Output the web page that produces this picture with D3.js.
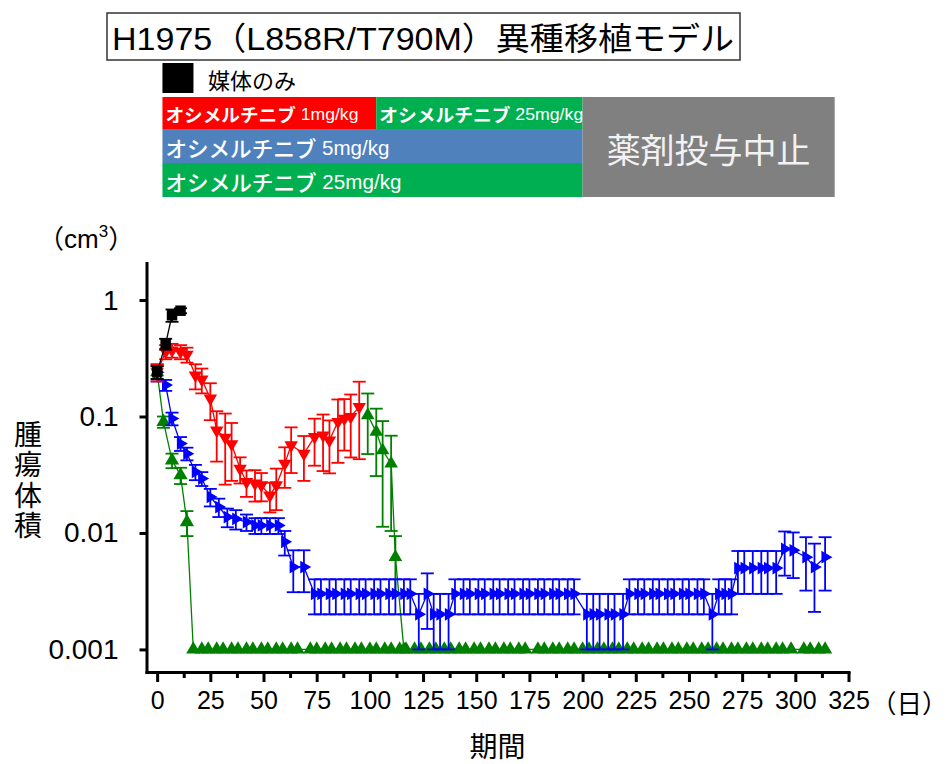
<!DOCTYPE html>
<html>
<head>
<meta charset="utf-8">
<script src="https://cdn.jsdelivr.net/npm/d3@7"></script>
<style>
  body { margin: 0; background: #fff; }
  svg { display: block; }
</style>
</head>
<body>
<svg id="chart" width="948" height="764"></svg>
<script>
// ---------- data ----------
const titleText = "H1975（L858R/T790M）異種移植モデル";

const vehicleDays = [0, 4, 7, 11];
const vehicleVol  = [0.24, 0.42, 0.74, 0.81];
const vehicleSem  = [0.03, 0.045, 0.09, 0.04];

// osimertinib 1 mg/kg, switched to 25 mg/kg afterwards
const osi1Days = [0, 4, 7, 11, 14, 18, 21, 25, 28, 32, 35, 39, 42, 46, 49, 53, 56, 60, 63, 69, 74, 78, 81, 85, 88, 91, 95];
const osi1Vol  = [0.24, 0.36, 0.37, 0.36, 0.34, 0.226, 0.208, 0.143, 0.076, 0.066, 0.058, 0.0356, 0.0274, 0.0266, 0.0257, 0.021, 0.0257, 0.0394, 0.0567, 0.048, 0.0668, 0.069, 0.0625, 0.090, 0.096, 0.0995, 0.121];
const osi1Sem  = [0.04, 0.05, 0.05, 0.05, 0.05, 0.055, 0.05, 0.05, 0.035, 0.04, 0.03, 0.009, 0.007, 0.008, 0.007, 0.006, 0.01, 0.015, 0.024, 0.02, 0.029, 0.035, 0.03, 0.05, 0.045, 0.055, 0.078];

const switchDays = [99, 103, 106, 110, 112, 116];
const switchVol  = [0.1026, 0.0738, 0.0513, 0.0394, 0.0062, 0.001];
const switchSem  = [0.055, 0.043, 0.04, 0.029, 0.0032, 0];

// osimertinib 5 mg/kg
const osi5Days = [0, 4, 7, 11, 14, 18, 21, 25, 29, 33, 37, 42, 46, 49, 53, 57, 60, 64, 69,
  74, 77, 81, 84, 88, 91, 95, 98, 102, 105, 109, 112, 116, 119,
  123, 127, 130, 133, 137,
  140, 144, 147, 151, 154, 158, 161, 165, 168, 172, 175,
  179, 182, 186, 189, 193, 196,
  202, 205, 208, 212, 215, 219,
  222, 226, 229, 233, 236, 240, 243, 247, 250, 254, 257,
  261, 264, 267, 270,
  273, 276, 280, 284, 287, 291,
  295, 299, 305, 309, 314];
const osi5Vol = [0.24, 0.186, 0.096, 0.0586, 0.048, 0.0334, 0.0293, 0.0204, 0.0167, 0.0137, 0.0132, 0.0124, 0.0116, 0.0116, 0.0116, 0.0116, 0.0084, 0.0051, 0.0051,
  0.003, 0.003, 0.003, 0.003, 0.003, 0.003, 0.003, 0.003, 0.003, 0.003, 0.003, 0.003, 0.003, 0.003,
  0.002, 0.003, 0.002, 0.002, 0.002,
  0.003, 0.003, 0.003, 0.003, 0.003, 0.003, 0.003, 0.003, 0.003, 0.003, 0.003,
  0.003, 0.003, 0.003, 0.003, 0.003, 0.003,
  0.002, 0.002, 0.002, 0.002, 0.002, 0.002,
  0.003, 0.003, 0.003, 0.003, 0.003, 0.003, 0.003, 0.003, 0.003, 0.003, 0.003,
  0.002, 0.003, 0.003, 0.003,
  0.005, 0.005, 0.005, 0.005, 0.005, 0.005,
  0.0073, 0.0071, 0.0062, 0.0051, 0.0062];
const osi5Sem = [0.04, 0.02, 0.012, 0.008, 0.006, 0.005, 0.004, 0.0035, 0.003, 0.0025, 0.0025, 0.002, 0.0018, 0.0018, 0.0018, 0.0018, 0.002, 0.002, 0.002,
  0.001, 0.001, 0.001, 0.001, 0.001, 0.001, 0.001, 0.001, 0.001, 0.001, 0.001, 0.001, 0.001, 0.001,
  0.001, 0.0015, 0.001, 0.001, 0.001,
  0.001, 0.001, 0.001, 0.001, 0.001, 0.001, 0.001, 0.001, 0.001, 0.001, 0.001,
  0.001, 0.001, 0.001, 0.001, 0.001, 0.001,
  0.001, 0.001, 0.001, 0.001, 0.001, 0.001,
  0.001, 0.001, 0.001, 0.001, 0.001, 0.001, 0.001, 0.001, 0.001, 0.001, 0.001,
  0.001, 0.001, 0.001, 0.001,
  0.002, 0.002, 0.002, 0.002, 0.002, 0.002,
  0.003, 0.003, 0.003, 0.003, 0.003];

// osimertinib 25 mg/kg
const osi25Days = [0, 3, 7, 11, 14,
  17, 21, 24, 28, 31, 35, 38, 42, 45, 49, 52, 56, 59, 63, 66,
  72, 75, 79, 82, 86, 89, 93, 96, 100, 103, 107, 110, 114, 117, 121, 124, 128, 131, 135, 138,
  142, 145, 149, 152, 156, 159, 163, 166, 170, 173,
  179, 182, 186, 189, 193, 196, 200, 203, 207, 210, 214, 217, 221, 224, 228, 231, 235, 238,
  242, 245, 249, 252, 256, 259, 263, 266, 270, 273, 277, 280, 284, 287, 291, 294, 298,
  304, 307, 311, 314];
const osi25Vol = [0.24, 0.09, 0.042, 0.0313, 0.0124,
  0.001, 0.001, 0.001, 0.001, 0.001, 0.001, 0.001, 0.001, 0.001, 0.001, 0.001, 0.001, 0.001, 0.001, 0.001,
  0.001, 0.001, 0.001, 0.001, 0.001, 0.001, 0.001, 0.001, 0.001, 0.001, 0.001, 0.001, 0.001, 0.001, 0.001, 0.001, 0.001, 0.001, 0.001, 0.001,
  0.001, 0.001, 0.001, 0.001, 0.001, 0.001, 0.001, 0.001, 0.001, 0.001,
  0.001, 0.001, 0.001, 0.001, 0.001, 0.001, 0.001, 0.001, 0.001, 0.001, 0.001, 0.001, 0.001, 0.001, 0.001, 0.001, 0.001, 0.001,
  0.001, 0.001, 0.001, 0.001, 0.001, 0.001, 0.001, 0.001, 0.001, 0.001, 0.001, 0.001, 0.001, 0.001, 0.001, 0.001, 0.001,
  0.001, 0.001, 0.001, 0.001];
const osi25Sem = [0.03, 0.01, 0.006, 0.005, 0.003];

// axis ticks
const xTicks = [0, 25, 50, 75, 100, 125, 150, 175, 200, 225, 250, 275, 300, 325];
const xMinorTicks = [12.5, 37.5, 62.5, 87.5, 112.5, 137.5, 162.5, 187.5, 212.5, 237.5, 262.5, 287.5, 312.5];
const yTicks = [0.001, 0.01, 0.1, 1];
const yTickLabels = ["0.001", "0.01", "0.1", "1"];

// dosing schedule shown above the plot (days)
const regimenLabels = ["オシメルチニブ 1mg/kg", "オシメルチニブ  25mg/kg", "オシメルチニブ 5mg/kg", "オシメルチニブ 25mg/kg", "薬剤投与中止"];
const regimenStart  = [2.5, 103, 2.5, 2.5, 200];
const regimenEnd    = [103, 200, 200, 200, 318.5];

// ---------- layout ----------
const svg = d3.select("#chart");
const latin = "'Liberation Sans', Arial, 'Noto Sans CJK JP', sans-serif";
const jp = "'Noto Sans CJK JP', sans-serif";

const x = d3.scaleLinear().domain([-5, 325]).range([146.5, 848.5]);
const y = d3.scaleLog().domain([0.00064, 2.08]).range([672, 263]);
const yMin = y.domain()[0];

// ---------- header ----------
svg.append("rect").attr("x", 107).attr("y", 13).attr("width", 633).attr("height", 47)
  .attr("fill", "#fff").attr("stroke", "#333").attr("stroke-width", 1.5);
svg.append("text").attr("x", 112).attr("y", 50)
  .attr("textLength", 622).attr("lengthAdjust", "spacingAndGlyphs")
  .style("font-family", latin).style("font-size", "32px").attr("fill", "#000")
  .text(titleText);

svg.append("rect").attr("x", x(2.5)).attr("y", 63).attr("width", 31).attr("height", 30).attr("fill", "#000");
svg.append("text").attr("x", 208).attr("y", 79).attr("dominant-baseline", "central")
  .style("font-family", jp).style("font-size", "22px").attr("fill", "#000").text("媒体のみ");

const rowTop = [97, 129, 163];
const rowH = [32, 34, 34];
const regimenRow = [0, 0, 1, 2, 0];
const regimenRows = [1, 1, 1, 1, 3];
const regimenFill = ["#ff0000", "#00b050", "#4f81bd", "#00b050", "#808080"];
const regimenTextLen = [193, 204, 224, 236, null];
const regimenKanaSize = [18, 18, 22, 22, 34];
const regimenDoseSize = [17, 17, 21, 21, 34];
const regimenBold = [true, true, false, false, false];

regimenLabels.forEach((label, i) => {
  const r0 = regimenRow[i];
  const top = rowTop[r0];
  const bottom = rowTop[r0 + regimenRows[i] - 1] + rowH[r0 + regimenRows[i] - 1];
  const x0 = x(regimenStart[i]), x1 = x(regimenEnd[i]);
  svg.append("rect").attr("x", x0).attr("y", top).attr("width", x1 - x0).attr("height", bottom - top)
    .attr("fill", regimenFill[i]);
  if (regimenTextLen[i]) {
    const parts = label.split(" ");
    const t = svg.append("text").attr("x", x0 + 3).attr("y", (top + bottom) / 2 + 1)
      .attr("dominant-baseline", "central")
      .attr("textLength", regimenTextLen[i]).attr("lengthAdjust", "spacingAndGlyphs")
      .attr("fill", "#fff").style("font-weight", regimenBold[i] ? "bold" : "500");
    t.append("tspan").style("font-family", jp).style("font-size", regimenKanaSize[i] + "px").text(parts[0]);
    t.append("tspan").style("font-family", latin).style("font-size", regimenDoseSize[i] + "px")
      .style("font-weight", "normal")
      .text(" " + parts.slice(1).join(" ").trim());
  } else {
    svg.append("text").attr("x", (x0 + x1) / 2).attr("y", (top + bottom) / 2 + 1)
      .attr("text-anchor", "middle").attr("dominant-baseline", "central")
      .style("font-family", jp).style("font-size", "34px").attr("fill", "#f2f2f2").text(label);
  }
});

// ---------- axes ----------
const gx = svg.append("g").attr("transform", `translate(0,${y.range()[0]})`)
  .call(d3.axisBottom(x).tickValues(xTicks).tickSize(10).tickPadding(9).tickSizeOuter(0).tickFormat(d3.format("d")));
gx.select(".domain").attr("stroke-width", 3).attr("stroke-linecap", "square");
gx.selectAll(".tick line").attr("stroke-width", 3);
gx.selectAll(".tick text").style("font-family", latin).style("font-size", "25px").attr("fill", "#000");

const gxm = svg.append("g").attr("transform", `translate(0,${y.range()[0]})`)
  .call(d3.axisBottom(x).tickValues(xMinorTicks).tickSize(6).tickFormat(""));
gxm.select(".domain").remove();
gxm.selectAll(".tick line").attr("stroke-width", 3);

const gy = svg.append("g").attr("transform", `translate(${x.range()[0]},0)`)
  .call(d3.axisLeft(y).tickValues(yTicks).tickSize(7).tickPadding(21).tickSizeOuter(0)
    .tickFormat((d, i) => yTickLabels[i]));
gy.select(".domain").attr("stroke-width", 3).attr("stroke-linecap", "square");
gy.selectAll(".tick line").attr("stroke-width", 3);
gy.selectAll(".tick text").style("font-family", latin).style("font-size", "28px").attr("fill", "#000");

// axis titles
svg.append("text").attr("x", 28).attr("y", 420)
  .style("writing-mode", "vertical-rl").style("letter-spacing", "2.5px")
  .style("font-family", jp).style("font-size", "28px").attr("fill", "#000").text("腫瘍体積");

const unit = svg.append("text").attr("x", 38).attr("y", 248)
  .style("font-family", latin).style("font-size", "26px").attr("fill", "#000");
unit.append("tspan").style("font-family", jp).text("（");
unit.append("tspan").text("cm");
unit.append("tspan").attr("dy", -11).style("font-size", "17px").text("3");
unit.append("tspan").attr("dy", 11).style("font-family", jp).text("）");

svg.append("text").attr("x", (x.range()[0] + x.range()[1]) / 2).attr("y", 745)
  .attr("text-anchor", "middle").attr("dominant-baseline", "central")
  .style("font-family", jp).style("font-size", "28px").attr("fill", "#000").text("期間");
svg.append("text").attr("x", 871).attr("y", 701).attr("dominant-baseline", "central")
  .style("font-family", jp).style("font-size", "25.5px").attr("fill", "#000").text("（日）");

// ---------- series ----------
function makeSeries(days, vals, sems) {
  return days.map((d, i) => ({ day: d, v: vals[i], e: sems[i] || 0 }));
}

const series = [
  { data: makeSeries(osi25Days, osi25Vol, osi25Sem), color: "#008000", shape: d3.symbolTriangle, rot: 0, size: 88 },
  { data: makeSeries(switchDays, switchVol, switchSem), color: "#008000", shape: d3.symbolTriangle, rot: 0, size: 80 },
  { data: makeSeries(osi5Days, osi5Vol, osi5Sem), color: "#0000ff", shape: d3.symbolTriangle, rot: 90, size: 70 },
  { data: makeSeries(osi1Days, osi1Vol, osi1Sem), color: "#ff0000", shape: d3.symbolTriangle, rot: 180, size: 78 },
  { data: makeSeries(vehicleDays, vehicleVol, vehicleSem), color: "#000000", shape: d3.symbolSquare, rot: 0, size: 110 }
];

const line = d3.line().x(d => x(d.day)).y(d => y(d.v));
const cap = 6.5;

series.forEach(s => {
  const g = svg.append("g");
  g.append("path").datum(s.data).attr("d", line)
    .attr("fill", "none").attr("stroke", s.color).attr("stroke-width", 1.3);

  const bars = g.selectAll(".err").data(s.data.filter(d => d.e > 0)).join("g");
  bars.each(function (d) {
    const gb = d3.select(this);
    const cx = x(d.day);
    const yHi = y(d.v + d.e);
    const yLo = y(Math.max(d.v - d.e, yMin));
    gb.append("line").attr("x1", cx).attr("x2", cx).attr("y1", yHi).attr("y2", yLo);
    gb.append("line").attr("x1", cx - cap).attr("x2", cx + cap).attr("y1", yHi).attr("y2", yHi);
    gb.append("line").attr("x1", cx - cap).attr("x2", cx + cap).attr("y1", yLo).attr("y2", yLo);
  });
  bars.selectAll("line").attr("stroke", s.color).attr("stroke-width", 1.8);

  g.selectAll(".mk").data(s.data).join("path")
    .attr("d", d3.symbol().type(s.shape).size(s.size))
    .attr("transform", d => `translate(${x(d.day)},${y(d.v)}) rotate(${s.rot})`)
    .attr("fill", s.color);
});
</script>
</body>
</html>
